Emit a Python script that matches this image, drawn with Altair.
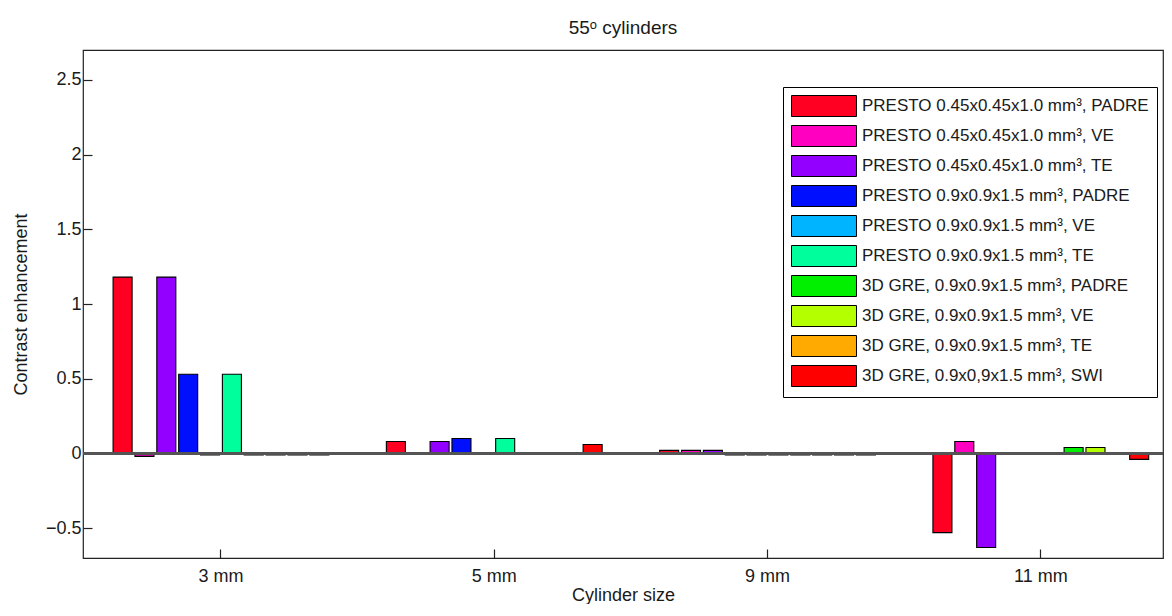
import altair as alt
import pandas as pd

groups = ["3 mm", "5 mm", "9 mm", "11 mm"]
series = [
    "PRESTO 0.45x0.45x1.0 mm³, PADRE",
    "PRESTO 0.45x0.45x1.0 mm³, VE",
    "PRESTO 0.45x0.45x1.0 mm³, TE",
    "PRESTO 0.9x0.9x1.5 mm³, PADRE",
    "PRESTO 0.9x0.9x1.5 mm³, VE",
    "PRESTO 0.9x0.9x1.5 mm³, TE",
    "3D GRE, 0.9x0.9x1.5 mm³, PADRE",
    "3D GRE, 0.9x0.9x1.5 mm³, VE",
    "3D GRE, 0.9x0.9x1.5 mm³, TE",
    "3D GRE, 0.9x0,9x1.5 mm³, SWI",
]
colors = ["#ff0022", "#ff00c0", "#9400ff", "#0010ff", "#00b4ff",
          "#00ff9c", "#00f000", "#b4ff00", "#ffaa00", "#ff0000"]

# values per series, in group order 3, 5, 9, 11 mm
v_presto045_padre = [1.18, 0.08, 0.02, -0.53]
v_presto045_ve = [-0.02, 0.0, 0.02, 0.08]
v_presto045_te = [1.18, 0.08, 0.02, -0.63]
v_presto09_padre = [0.53, 0.10, -0.01, 0.0]
v_presto09_ve = [-0.01, 0.0, -0.01, 0.0]
v_presto09_te = [0.53, 0.10, -0.01, 0.0]
v_gre_padre = [-0.01, 0.0, -0.01, 0.04]
v_gre_ve = [-0.01, 0.0, -0.01, 0.04]
v_gre_te = [-0.01, 0.0, -0.01, 0.0]
v_gre_swi = [-0.01, 0.06, -0.01, -0.04]

y_ticks = [-0.5, 0, 0.5, 1, 1.5, 2, 2.5]

all_values = [v_presto045_padre, v_presto045_ve, v_presto045_te,
              v_presto09_padre, v_presto09_ve, v_presto09_te,
              v_gre_padre, v_gre_ve, v_gre_te, v_gre_swi]

rows = []
for s, vals in zip(series, all_values):
    for g, v in zip(groups, vals):
        rows.append({"group": g, "series": s, "value": v})
df = pd.DataFrame(rows)

FONT = "Liberation Sans"
TXT = "#1a1a1a"

xscale = alt.Scale(domain=groups, paddingInner=0.2, paddingOuter=0.076, align=0.69)
yscale = alt.Scale(domain=[-0.7, 2.7], nice=False, zero=False)

bars = alt.Chart(df).mark_bar(stroke="black", strokeWidth=1.1).encode(
    x=alt.X("group:N", sort=groups, scale=xscale,
            axis=alt.Axis(title="Cylinder size", labelAngle=0, domain=False,
                          tickSize=9, offset=-9, labelPadding=9, titlePadding=1)),
    xOffset=alt.XOffset("series:N", sort=series,
                        scale=alt.Scale(paddingInner=0.13, paddingOuter=0.065)),
    y=alt.Y("value:Q", scale=yscale,
            axis=alt.Axis(title="Contrast enhancement", values=y_ticks, format="~g",
                          domain=False, tickSize=9, offset=-9, labelPadding=2,
                          titlePadding=15)),
    color=alt.Color("series:N", sort=series,
                    scale=alt.Scale(domain=series, range=colors),
                    legend=alt.Legend(
                        title=None, orient="none", legendX=700, legendY=37,
                        strokeColor="black", fillColor="white", padding=8,
                        symbolType="M-1,-1H5.19V1H-1Z", symbolSize=441,
                        symbolStrokeColor="black", symbolStrokeWidth=1,
                        symbolOpacity=1, labelFont=FONT, labelFontSize=17,
                        labelColor=TXT, labelOffset=49, labelLimit=500,
                        rowPadding=4)),
)

zero_line = alt.Chart(df).mark_rule(color="#555555", strokeWidth=1.6).encode(
    y=alt.datum(0)
)

chart = alt.layer(bars, zero_line).properties(
    width=1080, height=508,
    title=alt.TitleParams("55ᵒ cylinders", font=FONT, fontSize=19,
                          fontWeight="normal", color=TXT, anchor="middle",
                          offset=12),
    padding={"left": 4, "top": 11, "right": 0, "bottom": 0},
).configure_view(
    stroke="#222222", strokeWidth=1.2
).configure_axis(
    grid=False, labelFont=FONT, titleFont=FONT, labelFontSize=18,
    titleFontSize=18, titleFontWeight="normal", labelColor=TXT,
    titleColor=TXT, tickColor="#222222", tickWidth=1.2
)

chart.save("out.html", embed_options={"renderer": "svg", "actions": False})
